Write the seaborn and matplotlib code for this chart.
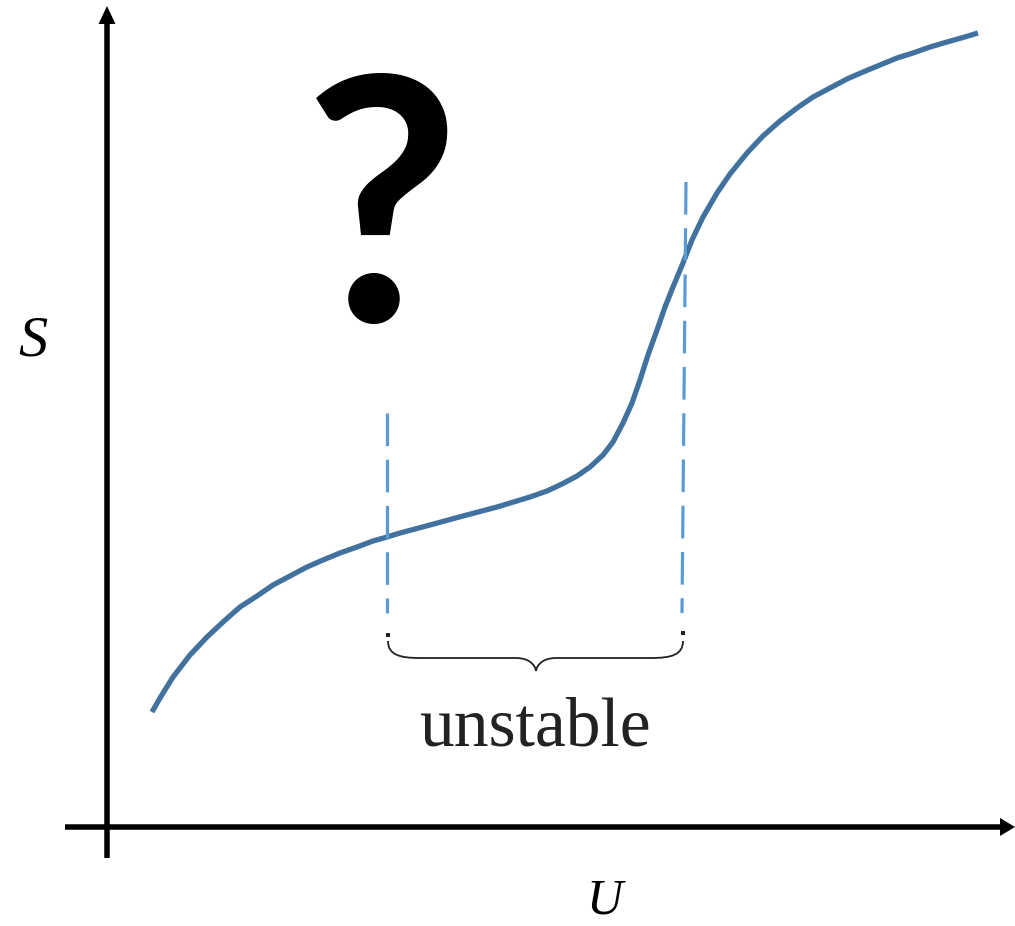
import seaborn as sns
import matplotlib.pyplot as plt
from matplotlib.path import Path
from matplotlib.patches import PathPatch

# Curva S(U) (coordenadas em pixels da imagem, y para baixo)
curva_u = [152, 160, 173, 190, 207, 223, 240, 257, 273, 290, 307, 323, 340, 357,
           373, 387, 400, 430, 463, 497, 530, 547, 562, 577, 590, 603, 613, 623,
           632, 640, 648, 657, 665, 673, 683, 692, 703, 717, 730, 747, 763, 780,
           797, 813, 830, 847, 863, 880, 897, 913, 930, 947, 963, 978]
curva_s = [712, 698, 677, 655, 637, 622, 607, 596, 585, 576, 567, 560, 553, 547,
           541, 537, 533, 525, 516, 507, 497, 491, 484, 476, 467, 455, 442, 423,
           403, 380, 355, 330, 307, 287, 263, 240, 217, 193, 174, 153, 136, 121,
           108, 97, 88, 79, 72, 65, 58, 53, 47, 42, 37.5, 33]

# Limites da região instável (linhas tracejadas)
tracejado_u_topo = [387, 686]
tracejado_u_base = [387, 682]
tracejado_s_topo = [413, 182]
tracejado_s_base = [613, 613]

rotulo_regiao = "unstable"
rotulo_x = "U"
rotulo_y = "S"
pergunta = "?"

sns.set_theme(style="white")
plt.rcParams["lines.scale_dashes"] = False

fig = plt.figure(figsize=(10.15, 9.26), dpi=100)
ax = fig.add_axes([0, 0, 1, 1])
ax.set_xlim(0, 1015)
ax.set_ylim(926, 0)
ax.axis("off")

# eixos com setas
ax.arrow(107, 858, 0, -852, width=5.5, head_width=17, head_length=18,
         length_includes_head=True, color="black", lw=0)
ax.arrow(65, 827, 950, 0, width=5.5, head_width=18, head_length=15,
         length_includes_head=True, color="black", lw=0)

# curva principal
sns.lineplot(x=curva_u, y=curva_s, sort=False, color="#41729f", lw=3.8,
             ax=ax, solid_capstyle="butt", solid_joinstyle="round")

# linhas tracejadas
for u0, u1, s0, s1 in zip(tracejado_u_topo, tracejado_u_base,
                          tracejado_s_topo, tracejado_s_base):
    ax.plot([u0, u1], [s0, s1], color="#5b9bd5", lw=2.3,
            linestyle=(0, (23.5, 9.8)), solid_capstyle="butt")

# chave
esq, dir_, meio = tracejado_u_base[0] + 1, tracejado_u_base[1] + 1, 536
verts = [(esq, 641), (esq, 655), (esq + 12, 658), (esq + 32, 658),
         (meio - 20, 658),
         (meio - 8, 658), (meio - 1, 664), (meio, 671),
         (meio + 1, 664), (meio + 8, 658), (meio + 20, 658),
         (dir_ - 32, 658),
         (dir_ - 12, 658), (dir_, 655), (dir_, 641)]
codes = [Path.MOVETO, Path.CURVE4, Path.CURVE4, Path.CURVE4,
         Path.LINETO,
         Path.CURVE4, Path.CURVE4, Path.CURVE4,
         Path.CURVE4, Path.CURVE4, Path.CURVE4,
         Path.LINETO,
         Path.CURVE4, Path.CURVE4, Path.CURVE4]
ax.add_patch(PathPatch(Path(verts, codes), fill=False, lw=1.3, ec="#222222"))
ax.scatter([esq, dir_], [635, 633], s=5, marker="s", color="#222222", lw=0)

# textos
ax.text(535, 745, rotulo_regiao, ha="center", va="baseline", fontsize=50,
        family="Liberation Serif", color="#222222")
ax.text(33, 355, rotulo_y, ha="center", va="baseline", fontsize=42,
        family="Liberation Serif", style="italic", color="black")
ax.text(604, 914, rotulo_x, ha="center", va="baseline", fontsize=36,
        family="Liberation Serif", style="italic", color="black")
ax.text(382, 322, pergunta, ha="center", va="baseline", fontsize=245,
        family="Lato", weight="bold", color="black")

fig.savefig("out.png", dpi=100)
